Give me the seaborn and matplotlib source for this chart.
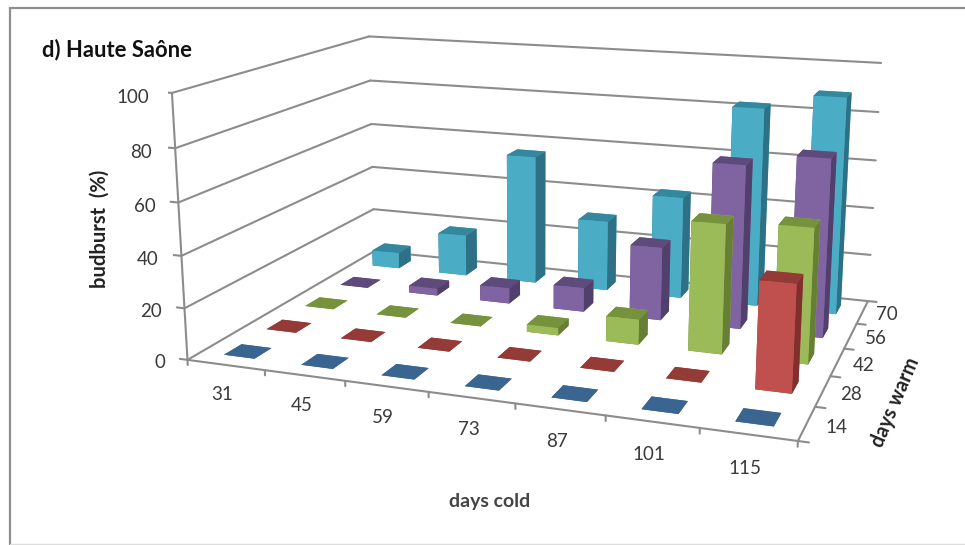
import numpy as np
import matplotlib
matplotlib.use("Agg")
import matplotlib.pyplot as plt
from matplotlib.lines import Line2D
from mpl_toolkits.mplot3d import proj3d
import seaborn as sns

# Budburst percentages: rows are days of warmth, columns are days of cold
days_cold = [31, 45, 59, 73, 87, 101, 115]
days_warm = [14, 28, 42, 56, 70]
warm_14 = [0, 0, 0, 0, 0, 0, 0]
warm_28 = [0, 0, 0, 0, 0, 0, 40]
warm_42 = [0, 0, 0, 3, 10, 50.5, 52]
warm_56 = [0, 3, 6.5, 10, 30, 66, 71]
warm_70 = [7, 18, 55.5, 30, 43, 82.5, 89]
budburst = [warm_14, warm_28, warm_42, warm_56, warm_70]
z_ticks = [0, 20, 40, 60, 80, 100]

# Face colours of each series
front_cols = ["#4F81BD", "#C0504D", "#9BBB59", "#8064A2", "#4BACC6"]
top_cols = ["#3A6591", "#943A37", "#76923C", "#5F4A7C", "#35879E"]
side_cols = ["#34597F", "#7F302E", "#677F34", "#52406C", "#2E7085"]

sns.set_theme(style="white")
plt.rcParams["font.family"] = ["Lato", "DejaVu Sans"]

W, H = 965, 545
GRID = "#8C8C8C"
TEXT = "#3A3A3A"

fig = plt.figure(figsize=(W / 100, H / 100), dpi=100, facecolor="white")
ax = fig.add_axes([0, 0, 1, 1], projection="3d", computed_zorder=False)
nx, ny = len(days_cold), len(days_warm)
ax.set_xlim(0, nx, view_margin=0)
ax.set_ylim(0, ny, view_margin=0)
ax.set_zlim(0, 100, view_margin=0)
ax.set_xticks([])
ax.set_yticks([])
ax.set_zticks([])
ax.set_axis_off()
ax.patch.set_visible(False)
ax.view_init(elev=13.9982, azim=-70.5363, roll=-0.1162)
ax.set_proj_type("persp", focal_length=np.exp(-0.9621))
ax.set_box_aspect((1.4329, 1, 0.6313))

# Place the square 3D panel so that the projected box lands where it should
ax.apply_aspect()
box = ax.get_window_extent()
origin = ax.transData.transform((0, 0))
unit = ax.transData.transform((1, 1)) - origin
k = 4004.8 / unit[0]
side = box.width * k
left = 548.18 - (origin[0] - box.x0) * k
bottom = (H - 205.44) - (origin[1] - box.y0) * k
ax.set_position([left / W, bottom / H, side / W, side / H])


def seg(p, q, lw=1.5, z=1):
    ax.plot([p[0], q[0]], [p[1], q[1]], [p[2], q[2]], color=GRID, lw=lw,
            zorder=z, solid_capstyle="round")


def label(x, y, z, s, ha="center"):
    # Project the anchor once and keep the label as flat text on the axes
    px, py, _ = proj3d.proj_transform(x, y, z, ax.get_proj())
    ax.text2D(float(px), float(py), s, transform=ax.transData, ha=ha,
              va="center", fontsize=13.5, color=TEXT, zorder=200)


# Walls, floor edges and tick marks
for zt in z_ticks:
    seg((0, 0, zt), (0, ny, zt))
    seg((0, ny, zt), (nx, ny, zt))
    seg((0, 0, zt), (-0.1, 0, zt))
seg((0, 0, 0), (0, 0, 100))
seg((0, 0, 0), (nx, 0, 0))
seg((nx, 0, 0), (nx, ny, 0))
for i in range(nx + 1):
    seg((i, 0, 0), (i, 0, -2))
for j in range(ny + 1):
    seg((nx, j, 0), (nx + 0.11, j, 0))

# Bars, painted from the far row to the near row and left to right
width = 0.4
order = 10
for j in reversed(range(ny)):
    cols = [top_cols[j], top_cols[j], front_cols[j], front_cols[j],
            side_cols[j], side_cols[j]]
    for i in range(nx):
        ax.bar3d(i + 0.5 - width / 2, j + 0.5 - width / 2, 0, width, width,
                 budburst[j][i], color=cols, shade=False, linewidth=0,
                 zorder=order)
        order += 1

# Tick labels
for i, lab in enumerate(days_cold):
    label(i + 0.5, -0.1, -10.5, str(lab))
for j, lab in enumerate(days_warm):
    label(nx + 0.3, j + 0.5, 0, str(lab))
for zt in z_ticks:
    label(-0.3, 0, zt - 2.2, str(zt), ha="right")

# Titles
fig.text(42 / W, 1 - 50 / H, "d) Haute Saône", fontsize=15.8, fontweight="bold",
         color="#111111", ha="left", va="center")
fig.text(100 / W, 1 - 229 / H, "budburst  (%)", fontsize=14.5, fontweight="bold",
         color="#222222", rotation=90, ha="center", va="center")
fig.text(490 / W, 1 - 501 / H, "days cold", fontsize=14, fontweight="bold",
         color="#444444", ha="center", va="center")
fig.text(895 / W, 1 - 402 / H, "days warm", fontsize=14.2, fontweight="bold",
         color="#222222", rotation=67, ha="center", va="center",
         rotation_mode="anchor")

# Chart frame
fig.add_artist(Line2D([10 / W, 1], [1 - 8 / H, 1 - 8 / H], color="#8E8E8E", lw=1.6))
fig.add_artist(Line2D([10 / W, 10 / W], [0, 1 - 8 / H], color="#8E8E8E", lw=1.6))
fig.add_artist(Line2D([10 / W, 1], [1 / H, 1 / H], color="#DDDDDD", lw=1.0))

fig.savefig("out.png", dpi=100, facecolor="white")
